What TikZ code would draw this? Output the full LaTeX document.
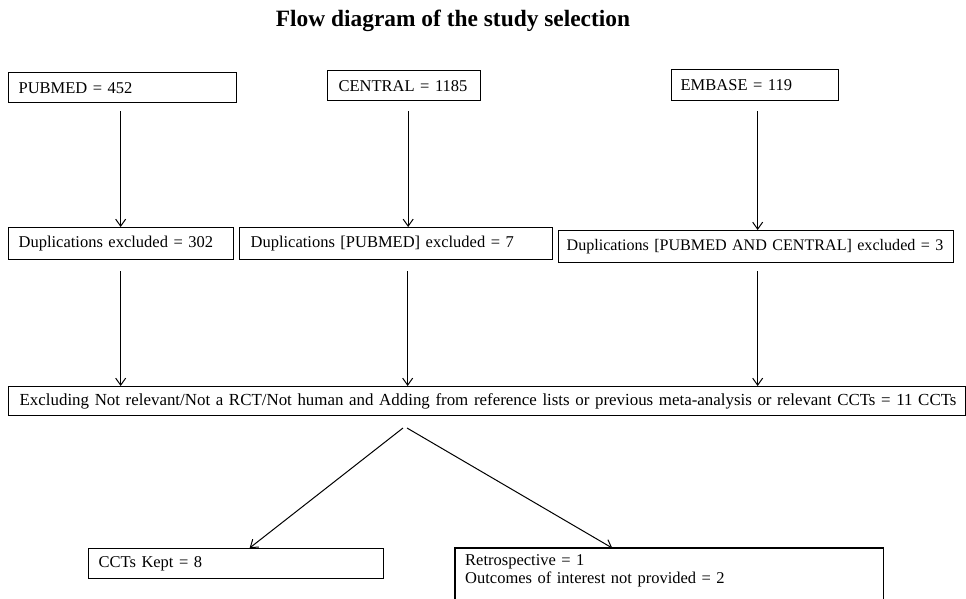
\documentclass[tikz,border=0pt]{standalone}
\usepackage{fontspec}
\setmainfont{Liberation Serif}
\usetikzlibrary{arrows.meta}
\begin{document}
\begin{tikzpicture}[x=1pt,y=-1pt,
  box/.style={draw, line width=1.3pt, anchor=north west, align=left, inner ysep=0pt, font=\fontsize{16.5}{19}\selectfont},
  txt/.style={anchor=north west, align=left, inner ysep=6pt, font=\fontsize{16.5}{18.5}\selectfont},
  arr/.style={line width=1pt, -{Straight Barb[length=7pt,width=10pt,line width=1pt]}},
  ttl/.style={font=\fontsize{23.4}{26}\selectfont\bfseries}
]
\useasboundingbox (0,0) rectangle (966,598);
\clip (0,0) rectangle (966,598);

\node[ttl] (title) at (453,21) {Flow diagram of the study selection};

\node[box, minimum width=228pt, minimum height=30pt, text width=208pt, inner xsep=10pt] (pub) at (8,72) {PUBMED = 452};
\node[box, minimum width=153pt, minimum height=30pt, text width=131pt, inner xsep=11pt] (cen) at (327,70) {CENTRAL = 1185};
\node[box, minimum width=167pt, minimum height=31pt, text width=149pt, inner xsep=9pt] (emb) at (671,69) {EMBASE = 119};

\node[box, minimum width=225pt, minimum height=32pt, text width=205pt, inner xsep=10pt] (d1) at (8,227) {Duplications excluded = 302};
\node[box, minimum width=313pt, minimum height=32pt, text width=291pt, inner xsep=11pt] (d2) at (239,227) {Duplications [PUBMED] excluded = 7};
\node[box, minimum width=395pt, minimum height=32pt, text width=379pt, inner xsep=8pt, font=\fontsize{16.1}{19}\selectfont] (d3) at (558,230) {\mbox{Duplications [PUBMED AND CENTRAL] excluded = 3}};

\node[box, minimum width=957pt, minimum height=29pt, text width=935pt, inner xsep=11pt, font=\fontsize{16.9}{19}\selectfont] (big) at (8,386) {\mbox{Excluding Not relevant/Not a RCT/Not human and Adding from reference lists or previous meta-analysis or relevant CCTs = 11 CCTs}};

\node[box, minimum width=295pt, minimum height=30pt, text width=275pt, inner xsep=10pt] (kept) at (88,548) {CCTs Kept = 8};
\node[txt, text width=408pt, inner xsep=10pt] (retro) at (455,548) {Retrospective = 1\\Outcomes of interest not provided = 2};
\draw[line width=1.3pt] (retro.north west) rectangle ([yshift=-70pt]retro.north east);

\draw[arr] ([xshift=-2pt,yshift=-8pt]pub.south) -- ([xshift=-2pt]pub.south |- d1.north);
\draw[arr] ([xshift=4pt,yshift=-10pt]cen.south) -- ([xshift=4pt]cen.south |- d2.north);
\draw[arr] ([xshift=2.5pt,yshift=-10pt]emb.south) -- ([xshift=2.5pt]emb.south |- d3.north);

\draw[arr] ([xshift=-0.5pt,yshift=-11pt]d1.south) -- ([xshift=-0.5pt]d1.south |- big.north);
\draw[arr] ([xshift=11.5pt,yshift=-11pt]d2.south) -- ([xshift=11.5pt]d2.south |- big.north);
\draw[arr] ([xshift=1.5pt,yshift=-8pt]d3.south) -- ([xshift=1.5pt]d3.south |- big.north);

\coordinate (fork1) at (403,428);
\coordinate (fork2) at (407,428);
\draw[arr] (fork1) -- ([xshift=13.5pt]kept.north);
\draw[arr] (fork2) -- ([xshift=-57pt]retro.north);
\end{tikzpicture}
\end{document}
